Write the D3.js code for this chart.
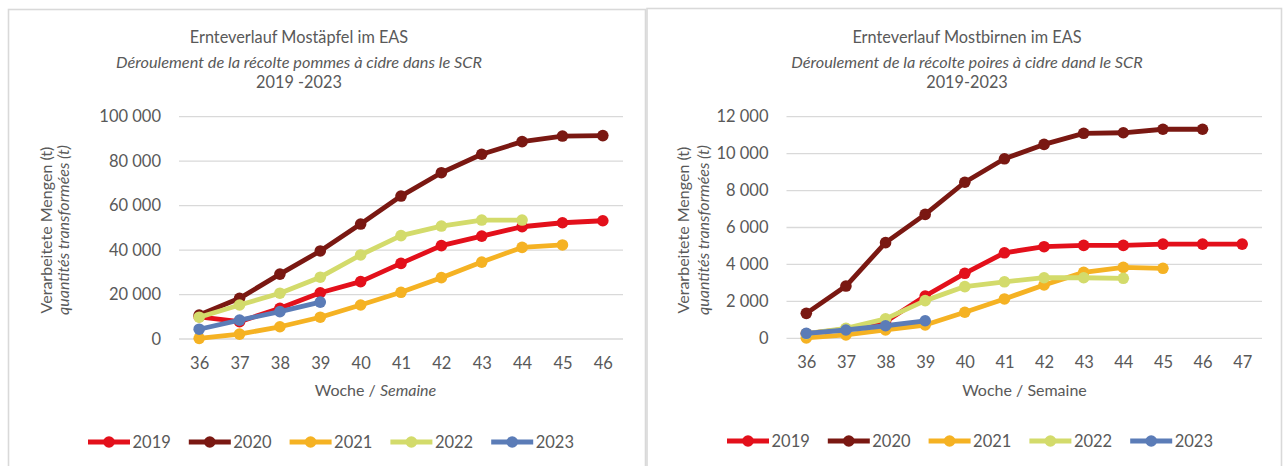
<!DOCTYPE html>
<html>
<head>
<meta charset="utf-8">
<script src="https://cdn.jsdelivr.net/npm/d3@7"></script>
<style>
  html, body { margin: 0; padding: 0; background: #ffffff; }
  svg { display: block; }
  text { font-family: Lato, "Open Sans", sans-serif; fill: #595959; }
</style>
</head>
<body>
<svg id="chart" width="1288" height="466"></svg>
<script>
// ---------- DATA ----------
const years = ["2019", "2020", "2021", "2022", "2023"];
const colors = ["#e3101b", "#7a1812", "#f5b223", "#d3db6b", "#5b7cb7"];

// Apples (Mostäpfel)
const appleWeeks = [36, 37, 38, 39, 40, 41, 42, 43, 44, 45, 46];
const appleTicks = [0, 20000, 40000, 60000, 80000, 100000];
const apples2019 = [10000, 7800, 13800, 20800, 25800, 34000, 42000, 46300, 50500, 52300, 53200];
const apples2020 = [10800, 18300, 29200, 39600, 51700, 64300, 74800, 83100, 88800, 91300, 91500];
const apples2021 = [300, 2200, 5500, 9800, 15300, 21000, 27600, 34600, 41200, 42300];
const apples2022 = [9800, 15300, 20600, 27800, 37800, 46500, 50800, 53500, 53500];
const apples2023 = [4400, 8500, 12300, 16600];

// Pears (Mostbirnen)
const pearWeeks = [36, 37, 38, 39, 40, 41, 42, 43, 44, 45, 46, 47];
const pearTicks = [0, 2000, 4000, 6000, 8000, 10000, 12000];
const pears2019 = [250, 500, 900, 2290, 3520, 4630, 4960, 5030, 5030, 5100, 5100, 5100];
const pears2020 = [1350, 2830, 5180, 6710, 8450, 9720, 10500, 11100, 11130, 11320, 11320];
const pears2021 = [20, 180, 450, 720, 1410, 2130, 2890, 3570, 3840, 3790];
const pears2022 = [250, 540, 1050, 2040, 2800, 3060, 3280, 3280, 3250];
const pears2023 = [270, 450, 680, 950];

// ---------- DRAW ----------
const svg = d3.select("#chart");
const fmt = v => d3.format(",")(v).replace(/,/g, "\u00a0");

function drawChart(cfg) {
  const g = svg.append("g");
  // panel border
  g.append("rect")
    .attr("x", cfg.panel[0]).attr("y", cfg.panel[1])
    .attr("width", cfg.panel[2]).attr("height", cfg.panel[3])
    .attr("fill", "#ffffff").attr("stroke", "#d9d9d9").attr("stroke-width", 1.6);

  const x = d3.scalePoint().domain(cfg.weeks).range([cfg.plot[0], cfg.plot[1]]).padding(0.5);
  const y = d3.scaleLinear().domain([0, cfg.ticks[cfg.ticks.length - 1]]).range([cfg.plot[2], cfg.plot[3]]);

  // gridlines
  g.append("g").selectAll("line").data(cfg.ticks).join("line")
    .attr("x1", cfg.plot[0]).attr("x2", cfg.plot[1])
    .attr("y1", d => y(d)).attr("y2", d => y(d))
    .attr("stroke", "#d9d9d9").attr("stroke-width", 1.3);

  // y tick labels
  const yAxis = d3.axisLeft(y).tickValues(cfg.ticks).tickFormat(fmt).tickSize(0).tickPadding(18);
  const ya = g.append("g").attr("transform", `translate(${cfg.plot[0]},0)`).call(yAxis);
  ya.select(".domain").remove();
  ya.selectAll("text").style("font-family", "Lato, sans-serif").style("font-size", "16.5px").attr("fill", "#595959");

  // x tick labels
  const xAxis = d3.axisBottom(x).tickSize(0).tickPadding(18);
  const xa = g.append("g").attr("transform", `translate(0,${cfg.plot[2]})`).call(xAxis);
  xa.select(".domain").remove();
  xa.selectAll("text").style("font-family", "Lato, sans-serif").style("font-size", "16.5px").attr("fill", "#595959");

  // titles
  const t = g.append("text").attr("text-anchor", "middle");
  t.append("tspan").attr("x", cfg.titleX).attr("y", 42.5).style("font-size", "16.3px").text(cfg.title[0]);
  t.append("tspan").attr("x", cfg.titleX).attr("y", 67.5).style("font-size", "16.3px").style("font-style", "italic").text(cfg.title[1]);
  t.append("tspan").attr("x", cfg.titleX).attr("y", 87.5).style("font-size", "16.3px").text(cfg.title[2]);

  // x axis title
  const xt = g.append("text").attr("x", cfg.xTitleX).attr("y", 396).attr("text-anchor", "middle").style("font-size", "16px");
  xt.append("tspan").text("Woche / ");
  xt.append("tspan").style("font-style", cfg.semaineItalic ? "italic" : "normal").text("Semaine");

  // y axis title
  g.append("text").attr("transform", `translate(${cfg.yTitleX[0]},230) rotate(-90)`)
    .attr("text-anchor", "middle").style("font-size", "16px").text(cfg.yTitle[0]);
  g.append("text").attr("transform", `translate(${cfg.yTitleX[1]},230) rotate(-90)`)
    .attr("text-anchor", "middle").style("font-size", "16px").style("font-style", "italic").text(cfg.yTitle[1]);

  // series
  const line = d3.line().x((d, i) => x(cfg.weeks[i])).y(d => y(d));
  cfg.series.forEach((vals, si) => {
    const sg = g.append("g");
    sg.append("path").datum(vals).attr("d", line)
      .attr("fill", "none").attr("stroke", colors[si]).attr("stroke-width", 4.8)
      .attr("stroke-linejoin", "round");
    sg.selectAll("circle").data(vals).join("circle")
      .attr("cx", (d, i) => x(cfg.weeks[i])).attr("cy", d => y(d)).attr("r", 5.8)
      .attr("fill", colors[si]);
  });

  // legend
  const lg = g.append("g").attr("transform", `translate(${cfg.legendX},${cfg.legendY})`);
  years.forEach((yr, i) => {
    const it = lg.append("g").attr("transform", `translate(${i * 100.8},0)`);
    it.append("line").attr("x1", -21).attr("x2", 21).attr("y1", 0).attr("y2", 0)
      .attr("stroke", colors[i]).attr("stroke-width", 4.8);
    it.append("circle").attr("r", 5.8).attr("fill", colors[i]);
    it.append("text").attr("x", 23.5).attr("y", 6).style("font-size", "16.5px").text(yr);
  });
}

drawChart({
  panel: [8.5, 9.5, 637, 480],
  plot: [179, 623, 339, 116.7],
  weeks: appleWeeks,
  ticks: appleTicks,
  series: [apples2019, apples2020, apples2021, apples2022, apples2023],
  title: ["Ernteverlauf Mostäpfel im EAS", "Déroulement de la récolte pommes à cidre dans le SCR", "2019 -2023"],
  titleX: 299,
  xTitleX: 375.5,
  semaineItalic: true,
  yTitle: ["Verarbeitete Mengen (t)", "quantités transformées (t)"],
  yTitleX: [51.5, 68.5],
  legendX: 109,
  legendY: 442
});

drawChart({
  panel: [647, 8.5, 634.5, 480],
  plot: [786.5, 1262, 338.3, 116.7],
  weeks: pearWeeks,
  ticks: pearTicks,
  series: [pears2019, pears2020, pears2021, pears2022, pears2023],
  title: ["Ernteverlauf Mostbirnen im EAS", "Déroulement de la récolte poires à cidre dand le SCR", "2019-2023"],
  titleX: 967,
  xTitleX: 1024.5,
  semaineItalic: false,
  yTitle: ["Verarbeitete Mengen  (t)", "quantités transformées (t)"],
  yTitleX: [688.5, 708.5],
  legendX: 748,
  legendY: 441
});
</script>
</body>
</html>
